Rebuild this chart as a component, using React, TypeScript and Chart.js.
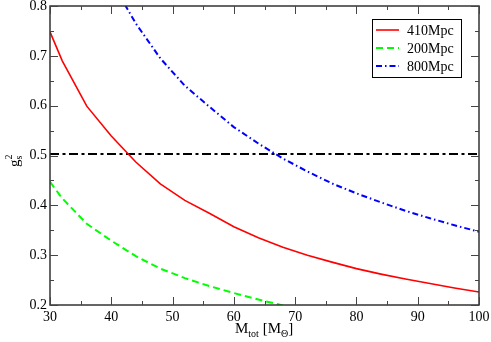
import { useEffect, useRef } from 'react';
import { Chart, registerables } from 'chart.js';
Chart.register(...registerables);

const SERIF = '"Liberation Serif", "DejaVu Serif", serif';

// Data
const massRed = [30, 32, 36, 40, 44, 48, 52, 56, 60, 64, 68, 72, 76, 80, 84, 88, 92, 96, 100];
const g410 = [0.748, 0.69, 0.599, 0.539, 0.487, 0.443, 0.41, 0.384, 0.357, 0.335, 0.316, 0.3, 0.286, 0.273, 0.262, 0.252, 0.243, 0.234, 0.226];
const massGreen = [30, 32, 36, 40, 44, 48, 52, 56, 60, 64, 68];
const g200 = [0.447, 0.414, 0.363, 0.329, 0.298, 0.273, 0.254, 0.238, 0.224, 0.211, 0.199];
const massBlue = [40, 44, 48, 52, 56, 60, 64, 68, 72, 76, 80, 84, 88, 92, 96, 100];
const g800 = [0.85, 0.765, 0.695, 0.64, 0.598, 0.557, 0.524, 0.494, 0.468, 0.444, 0.424, 0.406, 0.389, 0.374, 0.36, 0.347];
const massLimit = [30, 100];
const gLimit = [0.503, 0.503];
const seriesLabels = ['410Mpc', '200Mpc', '800Mpc'];
const xTicks = [30, 40, 50, 60, 70, 80, 90, 100];
const yTicks = [0.2, 0.3, 0.4, 0.5, 0.6, 0.7, 0.8];

const pts = (xs: number[], ys: number[]) => xs.map((x, i) => ({ x, y: ys[i] }));

const decorPlugin = {
  id: 'decor',
  afterDraw(chart: any) {
    const ctx: CanvasRenderingContext2D = chart.ctx;
    const { left, right, top, bottom } = chart.chartArea;
    const xs = chart.scales.x;
    const ys = chart.scales.y;
    ctx.save();
    // frame
    ctx.strokeStyle = '#333';
    ctx.lineWidth = 1.5;
    ctx.setLineDash([]);
    ctx.strokeRect(left, top, right - left, bottom - top);
    // ticks (inward, mirrored)
    ctx.lineWidth = 1;
    ctx.strokeStyle = '#444';
    ctx.beginPath();
    for (let v = 30; v <= 100.001; v += 5) {
      const px = Math.round(xs.getPixelForValue(v)) + 0.5;
      const len = Math.abs(v % 10) < 0.001 ? 8 : 4;
      ctx.moveTo(px, bottom); ctx.lineTo(px, bottom - len);
      ctx.moveTo(px, top); ctx.lineTo(px, top + len);
    }
    for (let i = 0; i <= 12; i++) {
      const v = 0.2 + i * 0.05;
      const py = Math.round(ys.getPixelForValue(v)) + 0.5;
      const len = i % 2 === 0 ? 8 : 4;
      ctx.moveTo(left, py); ctx.lineTo(left + len, py);
      ctx.moveTo(right, py); ctx.lineTo(right - len, py);
    }
    ctx.stroke();

    // legend
    const lx = 372, ly = 19, lw = 89, lh = 58;
    ctx.fillStyle = '#fff';
    ctx.fillRect(lx, ly, lw, lh);
    ctx.strokeStyle = '#000';
    ctx.lineWidth = 1;
    ctx.strokeRect(lx + 0.5, ly + 0.5, lw, lh);
    ctx.font = `14px ${SERIF}`;
    ctx.textBaseline = 'middle';
    ctx.textAlign = 'left';
    for (let i = 0; i < 3; i++) {
      const ds = chart.data.datasets[i];
      const y = ly + 11 + i * 18;
      ctx.strokeStyle = ds.borderColor;
      ctx.lineWidth = ds.borderWidth;
      ctx.setLineDash(ds.borderDash || []);
      ctx.beginPath();
      ctx.moveTo(376, y);
      ctx.lineTo(399, y);
      ctx.stroke();
      ctx.setLineDash([]);
      ctx.fillStyle = '#000';
      ctx.fillText(seriesLabels[i], 407, y + 1);
    }

    // x title: M_tot [M_Θ]
    ctx.fillStyle = '#000';
    ctx.textBaseline = 'alphabetic';
    let x = 235;
    const base = 333;
    const big = `15px ${SERIF}`;
    const small = `10px ${SERIF}`;
    const part = (t: string, f: string, dy: number) => {
      ctx.font = f;
      ctx.fillText(t, x, base + dy);
      x += ctx.measureText(t).width;
    };
    part('M', big, 0);
    part('tot', small, 4);
    part(' [M', big, 0);
    part('Θ', small, 4);
    part(']', big, 0);

    // y title: g_s^2 rotated
    ctx.save();
    ctx.translate(19, 167);
    ctx.rotate(-Math.PI / 2);
    ctx.font = big;
    ctx.fillText('g', 0, 0);
    const gw = ctx.measureText('g').width;
    ctx.font = small;
    ctx.fillText('s', gw, 3);
    ctx.fillText('2', gw, -7);
    ctx.restore();

    ctx.restore();
  },
};

export default function App() {
  const ref = useRef<HTMLCanvasElement>(null);
  useEffect(() => {
    document.body.style.margin = '0';
    const chart = new Chart(ref.current!, {
      type: 'line',
      data: {
        datasets: [
          { label: seriesLabels[0], data: pts(massRed, g410), borderColor: '#ff0000', borderWidth: 1.6, pointRadius: 0, fill: false, tension: 0 },
          { label: seriesLabels[1], data: pts(massGreen, g200), borderColor: '#00ff00', borderWidth: 2, borderDash: [7, 4], pointRadius: 0, fill: false, tension: 0 },
          { label: seriesLabels[2], data: pts(massBlue, g800), borderColor: '#0000ff', borderWidth: 2, borderDash: [6, 3, 1.5, 3], pointRadius: 0, fill: false, tension: 0 },
          { label: 'limit', data: pts(massLimit, gLimit), borderColor: '#000000', borderWidth: 2, borderDash: [9, 3.5, 3, 3.5], pointRadius: 0, fill: false, tension: 0 },
        ],
      } as any,
      options: {
        responsive: false,
        animation: false,
        layout: { padding: { top: 6, right: 12, left: 0, bottom: 0 } },
        plugins: { legend: { display: false }, tooltip: { enabled: false } },
        scales: {
          x: {
            type: 'linear', min: 30, max: 100,
            afterBuildTicks: (s: any) => { s.ticks = xTicks.map((v) => ({ value: v })); },
            afterFit: (s: any) => { s.height = 37; s.paddingLeft = 0; s.paddingRight = 0; },
            ticks: { font: { family: SERIF, size: 14 }, color: '#000', padding: 4, maxRotation: 0, autoSkip: false, callback: (v: any) => String(v) },
            grid: { display: false, drawTicks: false },
            border: { display: false },
          },
          y: {
            type: 'linear', min: 0.2, max: 0.8,
            afterBuildTicks: (s: any) => { s.ticks = yTicks.map((v) => ({ value: v })); },
            afterFit: (s: any) => { s.width = 50; s.paddingTop = 0; s.paddingBottom = 0; },
            ticks: { font: { family: SERIF, size: 14 }, color: '#000', padding: 3, autoSkip: false, callback: (v: any) => Number(v).toFixed(1) },
            grid: { display: false, drawTicks: false },
            border: { display: false },
          },
        },
      } as any,
      plugins: [decorPlugin],
    });
    return () => chart.destroy();
  }, []);
  return <canvas ref={ref} width={491} height={342} />;
}
